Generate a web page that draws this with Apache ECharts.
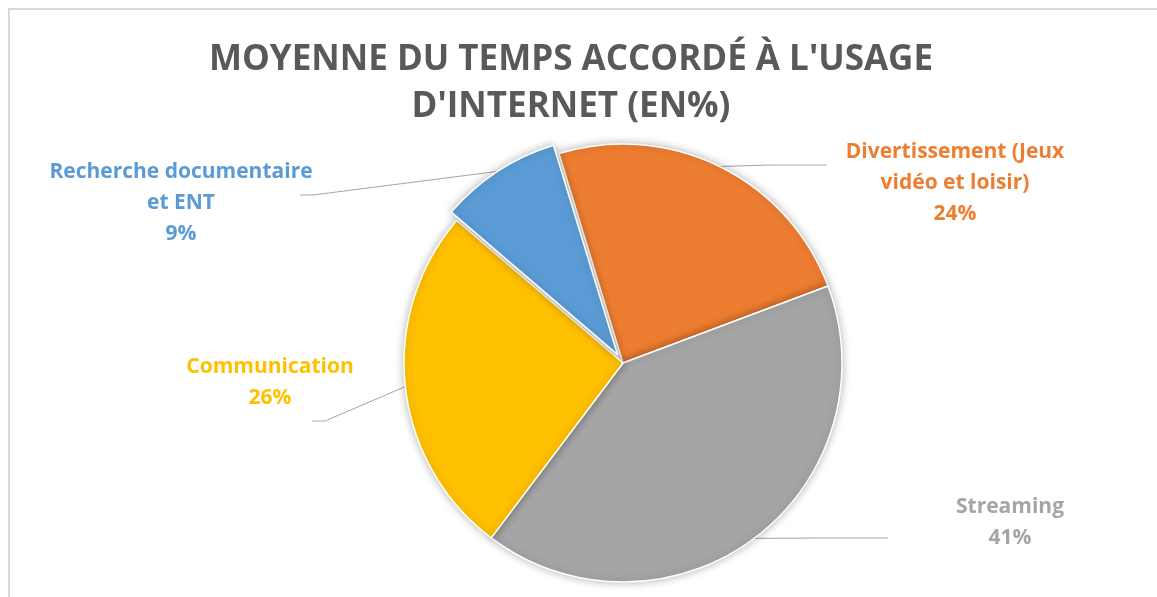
<!DOCTYPE html>
<html>
<head>
<meta charset="utf-8">
<script src="https://cdn.jsdelivr.net/npm/echarts@6/dist/echarts.min.js"></script>
<style>
  html, body { margin: 0; padding: 0; background: #fff; }
  #chart { width: 1157px; height: 597px; }
</style>
</head>
<body>
<div id="chart"></div>
<script>
// Share of internet time by usage (percent), clockwise from the top
const categories = [
  'Divertissement (Jeux\nvidéo et loisir)',
  'Streaming',
  'Communication',
  'Recherche documentaire\net ENT'
];
const values = [24, 41, 26, 9];
const colors = ['#ED7D31', '#A5A5A5', '#FFC000', '#5B9BD5'];
const titleText = "MOYENNE DU TEMPS ACCORDÉ À L'USAGE\nD'INTERNET (EN%)";
const explodedIndex = 3; // slice pulled out of the pie

// Label anchor (centre of text block) and leader-line bends for each slice
const labelSpots = [
  { x: 955, y: 183, bend: [[770, 165], [827, 165]] },
  { x: 1010, y: 523, bend: [[820, 538], [888, 538]] },
  { x: 270, y: 383, bend: [[325, 421], [312, 421]] },
  { x: 181, y: 203, bend: [[313, 195], [300, 195]] }
];

const FONT = '"Open Sans", "Liberation Sans", sans-serif';
const CENTER = [623, 363];
const RADIUS = 219;
const START_ANGLE = 107;
const EXPLODE = 10;

// Direction of the exploded slice's mid-angle, derived from the values
const total = values.reduce((a, b) => a + b, 0);
const before = values.slice(0, explodedIndex).reduce((a, b) => a + b, 0);
const midDeg = START_ANGLE - 360 * (before + values[explodedIndex] / 2) / total;
const midRad = midDeg * Math.PI / 180;
const explodedCenter = [
  CENTER[0] + EXPLODE * Math.cos(midRad),
  CENTER[1] - EXPLODE * Math.sin(midRad)
];

const sliceStyle = {
  borderColor: '#ffffff',
  borderWidth: 1.5,
  shadowBlur: 8,
  shadowColor: 'rgba(0,0,0,0.28)'
};
const hidden = {
  color: 'rgba(0,0,0,0)',
  borderWidth: 0,
  shadowBlur: 0,
  shadowColor: 'rgba(0,0,0,0)'
};

function makeSeries(showIdx, center) {
  return {
    type: 'pie',
    center: center,
    radius: RADIUS,
    startAngle: START_ANGLE,
    clockwise: true,
    selectedMode: false,
    silent: true,
    data: categories.map((name, i) => {
      const on = showIdx(i);
      return {
        name: name,
        value: values[i],
        itemStyle: on ? Object.assign({ color: colors[i] }, sliceStyle) : hidden,
        label: { show: on, color: colors[i] },
        labelLine: { show: on }
      };
    }),
    label: {
      show: true,
      position: 'outside',
      formatter: '{b}\n{c}%',
      fontFamily: FONT,
      fontSize: 21,
      fontWeight: 'bold',
      lineHeight: 31,
      align: 'center'
    },
    labelLine: {
      show: true,
      lineStyle: { color: '#A6A6A6', width: 1 }
    },
    labelLayout: function (params) {
      const spot = labelSpots[params.dataIndex];
      const start = params.labelLinePoints ? params.labelLinePoints[0] : [0, 0];
      return {
        x: spot.x,
        y: spot.y,
        align: 'center',
        verticalAlign: 'middle',
        labelLinePoints: [start, spot.bend[0], spot.bend[1]]
      };
    },
    emphasis: { disabled: true }
  };
}

const chart = echarts.init(document.getElementById('chart'), null, { renderer: 'canvas' });

chart.setOption({
  backgroundColor: '#ffffff',
  animation: false,
  title: {
    text: titleText,
    left: 566,
    top: 32,
    textAlign: 'center',
    textStyle: {
      fontFamily: FONT,
      fontSize: 35,
      fontWeight: 'bold',
      color: '#595959',
      lineHeight: 47
    }
  },
  graphic: [{
    type: 'rect',
    shape: { x: 9, y: 9, width: 1300, height: 800 },
    style: { fill: 'none', stroke: '#d9d9d9', lineWidth: 2 },
    silent: true,
    z: -1
  }],
  series: [
    makeSeries(i => i !== explodedIndex, CENTER),
    makeSeries(i => i === explodedIndex, explodedCenter)
  ]
});
</script>
</body>
</html>
